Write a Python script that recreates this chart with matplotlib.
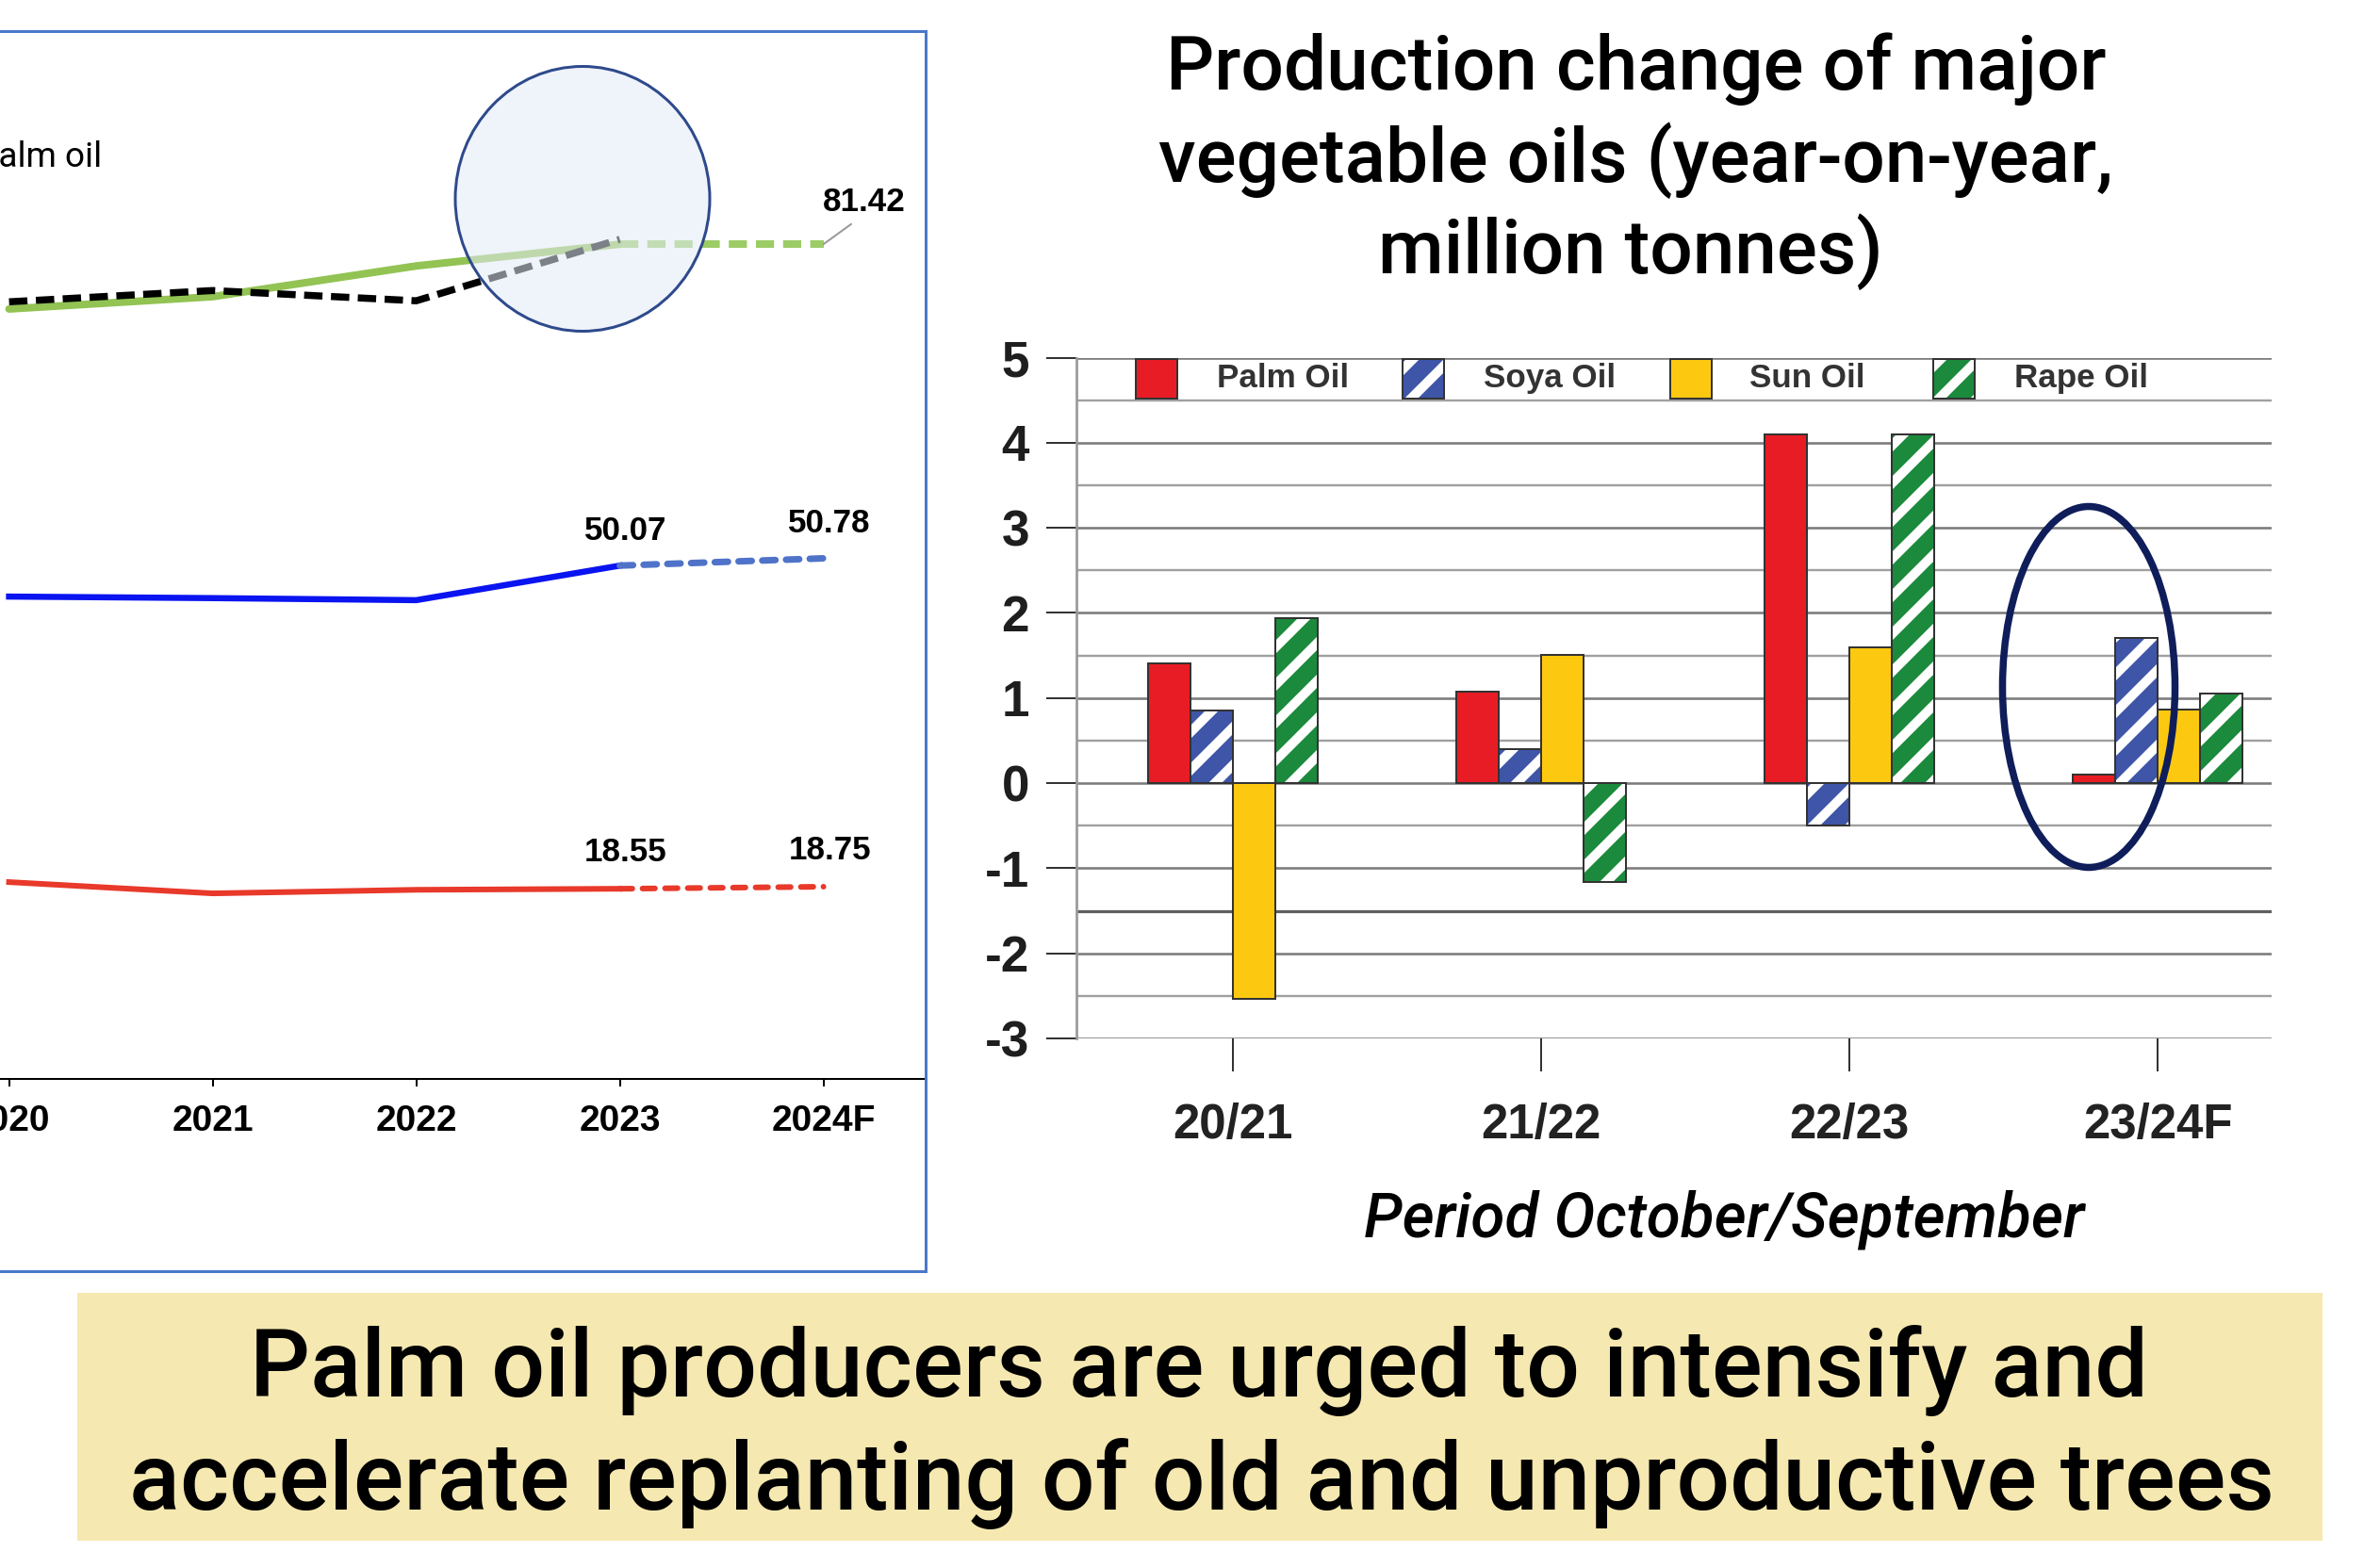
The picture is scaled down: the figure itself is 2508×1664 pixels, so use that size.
import numpy as np
import matplotlib
matplotlib.use("Agg")
import matplotlib.pyplot as plt
from matplotlib import font_manager
from matplotlib.patches import Rectangle, Ellipse

W, H = 2508, 1664
DPI = 240


def pt(px):
    return px * 72 / DPI


def have(name):
    try:
        font_manager.findfont(name, fallback_to_default=False)
        return True
    except Exception:
        return False


HAS_NARROW = have("Liberation Sans Narrow")
NARROW = "Liberation Sans Narrow" if HAS_NARROW else "Liberation Sans"
ARIAL = "Liberation Sans"
DIN = "Roboto"

# ---- left chart: supply lines (million tonnes) ----
years = ["2020", "2021", "2022", "2023", "2024F"]
green_line = [75.1, 76.3, 79.3, 81.42]
green_fc = [81.42, 81.42]
black_line = [75.8, 76.9, 75.9, 81.9]
blue_line = [47.05, 46.9, 46.7, 50.07]
blue_fc = [50.07, 50.78]
red_line = [19.2, 18.1, 18.45, 18.55]
red_fc = [18.55, 18.75]

# ---- right chart: year-on-year change (million tonnes) ----
periods = ["20/21", "21/22", "22/23", "23/24F"]
palm = [1.41, 1.08, 4.10, 0.10]
soya = [0.85, 0.40, -0.50, 1.71]
sun = [-2.53, 1.51, 1.60, 0.86]
rape = [1.94, -1.16, 4.10, 1.05]
oil_names = ["Palm Oil", "Soya Oil", "Sun Oil", "Rape Oil"]
oil_colors = ["#e81c24", "#3f55a8", "#fcc910", "#1b8a3c"]
oil_hatch = [None, "//", None, "//"]

plt.rcParams["hatch.linewidth"] = pt(10)

fig = plt.figure(figsize=(W / DPI, H / DPI), dpi=DPI, facecolor="white")


def fx(x):
    return x / W


def fy(y):
    return 1 - y / H


# ================= left panel =================
ax1 = fig.add_axes([fx(-120), fy(1145), 1102.7 / W, 1088 / H])
ax1.set_xlim(-0.6, 4.505)
ax1.set_ylim(0, 100)
ax1.patch.set_alpha(0)
for s in ["top", "right", "left"]:
    ax1.spines[s].set_visible(False)
ax1.spines["bottom"].set_linewidth(pt(2))
ax1.set_yticks([])
ax1.set_xticks(range(5))
ax1.set_xticklabels(years, fontfamily=ARIAL, fontweight="bold", fontsize=pt(39))
ax1.tick_params(axis="x", length=pt(8), width=pt(2), pad=pt(19))

x4 = np.arange(4)
ax1.plot(x4, green_line, color="#92c353", lw=pt(8), solid_capstyle="round", zorder=3)
ax1.plot([3, 4], green_fc, color="#9ccc65", lw=pt(8), dashes=(2.4, 1.2), zorder=3)
ax1.plot(x4, black_line, color="black", lw=pt(7.5), dashes=(2.6, 1.2), zorder=4)
ax1.plot(x4, blue_line, color="#0a14f0", lw=pt(6.5), zorder=3)
ax1.plot([3, 4], blue_fc, color="#4f73c9", lw=pt(7), dashes=(2.0, 1.6),
         dash_capstyle="round", zorder=3)
ax1.plot(x4, red_line, color="#e8392a", lw=pt(6), zorder=3)
ax1.plot([3, 4], red_fc, color="#e8392a", lw=pt(6), dashes=(2.2, 1.8),
         dash_capstyle="round", zorder=3)

lab_kw = dict(fontfamily=ARIAL, fontweight="bold", fontsize=pt(35), ha="center",
              va="baseline", textcoords="offset pixels")
ax1.annotate(f"{blue_fc[0]:.2f}", (3, blue_fc[0]), xytext=(6, 27), **lab_kw)
ax1.annotate(f"{blue_fc[1]:.2f}", (4, blue_fc[1]), xytext=(6, 28), **lab_kw)
ax1.annotate(f"{red_fc[0]:.2f}", (3, red_fc[0]), xytext=(6, 29), **lab_kw)
ax1.annotate(f"{red_fc[1]:.2f}", (4, red_fc[1]), xytext=(7, 29), **lab_kw)
ax1.annotate(f"{green_fc[1]:.2f}", (4, green_fc[1]), xytext=(43, 35),
             arrowprops=dict(arrowstyle="-", color="#999999", lw=pt(2),
                             shrinkA=0, shrinkB=0, relpos=(0.45, 0)), **lab_kw)

fig.text(fx(108), fy(177), "Palm oil", ha="right", va="baseline",
         fontfamily=DIN, fontsize=pt(37))

fig.patches.append(Rectangle((fx(-5), fy(1349)), (982 + 5) / W, (1349 - 33) / H,
                             transform=fig.transFigure, fill=False,
                             edgecolor="#4a78c8", lw=pt(3), zorder=5))
fig.patches.append(Ellipse((fx(618), fy(211)), 270 / W, 281 / H,
                           transform=fig.transFigure, facecolor="#e3eaf7",
                           alpha=0.55, edgecolor="none", zorder=6))
fig.patches.append(Ellipse((fx(618), fy(211)), 270 / W, 281 / H,
                           transform=fig.transFigure, fill=False,
                           edgecolor="#2e4a8c", lw=pt(3), zorder=7))

# ================= right panel =================
ax2 = fig.add_axes([fx(1142), fy(1102), 1268 / W, 722.5 / H])
ax2.set_xlim(-0.508, 3.37)
ax2.set_ylim(-3, 5)
for s in ["top", "right", "bottom"]:
    ax2.spines[s].set_visible(False)
ax2.spines["left"].set_color("#9a9a9a")
ax2.spines["left"].set_linewidth(pt(2.7))
ax2.spines["left"].set_zorder(4)

for v in np.arange(-3, 5.01, 0.5):
    if abs(v + 1.5) < 1e-6:
        c, lw = "#5e5e5e", pt(3.2)
    elif abs(v - round(v)) < 1e-6:
        c, lw = "#7c7c7c", pt(2.6)
    else:
        c, lw = "#a0a0a0", pt(2.4)
    ax2.axhline(v, color=c, lw=lw, zorder=1)

ax2.set_yticks(range(-3, 6))
ax2.set_yticklabels([str(v) for v in range(-3, 6)], fontfamily=NARROW,
                    fontweight="bold", fontsize=pt(53), color="#1e1e1e")
ax2.tick_params(axis="y", length=pt(32), width=pt(2), color="#333333", pad=pt(18))
ax2.set_xticks(range(4))
ax2.set_xticklabels(periods, fontfamily=NARROW, fontweight="bold",
                    fontsize=pt(56 if HAS_NARROW else 51), color="#222222")
ax2.tick_params(axis="x", length=pt(35), width=pt(2), color="#333333", pad=pt(33))

bw = 0.138
xg = np.arange(4)
for i, (vals, c, h) in enumerate(zip([palm, soya, sun, rape], oil_colors, oil_hatch)):
    xs = xg + (i - 1.5) * bw
    if h:
        ax2.bar(xs, vals, bw, color=c, edgecolor="white", hatch=h, lw=0, zorder=2)
        ax2.bar(xs, vals, bw, fill=False, edgecolor="#333333", lw=pt(2), zorder=3)
    else:
        ax2.bar(xs, vals, bw, color=c, edgecolor="#333333", lw=pt(2), zorder=2)

# legend band between 5 and 4.5
sw_left = [1205, 1488, 1772, 2051]
tx_left = [1291, 1574, 1856, 2137]
for name, c, h, sl, tl in zip(oil_names, oil_colors, oil_hatch, sw_left, tx_left):
    x0 = (sl - 1308) / 327
    if h:
        ax2.add_patch(Rectangle((x0, 4.52), 44 / 327, 0.46, facecolor=c,
                                edgecolor="white", hatch=h, lw=0, zorder=3))
        ax2.add_patch(Rectangle((x0, 4.52), 44 / 327, 0.46, fill=False,
                                edgecolor="#333333", lw=pt(2), zorder=3))
    else:
        ax2.add_patch(Rectangle((x0, 4.52), 44 / 327, 0.46, facecolor=c,
                                edgecolor="#333333", lw=pt(2), zorder=3))
    ax2.text((tl - 1308) / 327, 4.755, name, ha="left", va="center",
             fontfamily=ARIAL, fontweight="bold", fontsize=pt(35), color="#333333")

fig.patches.append(Ellipse((fx(2216), fy(729)), 183 / W, 383 / H,
                           transform=fig.transFigure, fill=False,
                           edgecolor="#0f1d5a", lw=pt(7.5), zorder=7))

# ================= texts =================
rend = fig.canvas.get_renderer()


def fit_text(x, y, s, width_px, **kw):
    t = fig.text(fx(x), fy(y), s, ha="center", va="baseline", **kw)
    bb = t.get_window_extent(renderer=rend)
    t.set_fontsize(t.get_fontsize() * width_px / bb.width)
    return t


t1 = fit_text(1736, 95, "Production change of major", 999,
              fontfamily=DIN, fontweight="medium", fontsize=40)
fs = t1.get_fontsize()
fig.text(fx(1735), fy(193), "vegetable oils (year-on-year,", ha="center", va="baseline",
         fontfamily=DIN, fontweight="medium", fontsize=fs)
fig.text(fx(1730), fy(290), "million tonnes)", ha="center", va="baseline",
         fontfamily=DIN, fontweight="medium", fontsize=fs)

fit_text(1829, 1312, "Period October/September", 764,
         fontfamily=DIN, fontweight="medium", fontstyle="italic", fontsize=20)

fig.patches.append(Rectangle((fx(82), fy(1635)), (2464 - 82) / W, (1635 - 1372) / H,
                             transform=fig.transFigure, facecolor="#f5e8b0",
                             edgecolor="none", zorder=-1))
fit_text(1272, 1482, "Palm oil producers are urged to intensify and", 2016,
         fontfamily=DIN, fontweight="medium", fontsize=40)
fit_text(1275, 1602, "accelerate replanting of old and unproductive trees", 2277,
         fontfamily=DIN, fontweight="medium", fontsize=40)

fig.savefig("out.png", dpi=DPI, facecolor="white")
